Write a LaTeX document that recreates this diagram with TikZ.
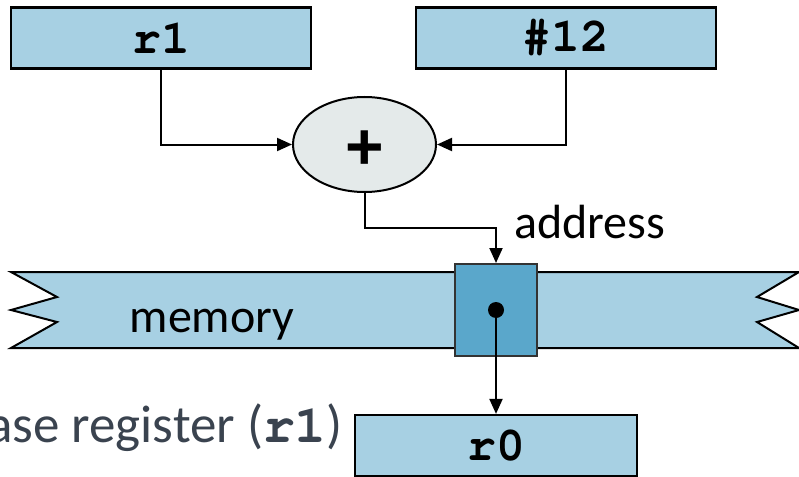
\documentclass[tikz,border=0pt]{standalone}
\usepackage{fontspec}
\setmainfont{Carlito}
\setmonofont{TeX Gyre Cursor}
\newfontfamily\plusfont{Liberation Sans}
\newcommand\codefont{\ttfamily\bfseries}
\usetikzlibrary{shapes.geometric,arrows.meta}

\definecolor{regfill}{HTML}{A7D0E3}
\definecolor{alufill}{HTML}{E4EAEA}
\definecolor{cellfill}{HTML}{5AA7CB}
\definecolor{notegray}{HTML}{3A434F}

\tikzset{
  reg/.style={draw=black, line width=2.2pt, fill=regfill, rectangle,
    minimum width=300pt, minimum height=61pt, inner sep=0pt,
    font=\fontsize{48}{48}\selectfont\codefont},
  alu/.style={draw=black, line width=2pt, fill=alufill, ellipse,
    minimum width=143pt, minimum height=95pt, inner sep=0pt},
  cellbox/.style={draw=black!80, line width=2pt, fill=cellfill, rectangle,
    minimum width=82pt, minimum height=92pt, inner sep=0pt},
  wire/.style={draw=black, line width=2pt,
    -{Triangle[length=15pt,width=13pt]}},
  lbl/.style={font=\fontsize{48}{48}\selectfont, inner sep=0pt},
}

\begin{document}
\begin{tikzpicture}[x=1pt, y=-1pt]
  \useasboundingbox (0,0) rectangle (799,476);

  % operand registers
  \node[reg] (r1)  at (161,38)  {r1};
  \node[reg] (imm) at (566,38)  {\#12};

  % adder
  \node[alu] (add) at (364.5,144.5) {};
  \node[inner sep=0pt, font=\fontsize{66}{66}\selectfont\plusfont\bfseries]
    (plus) at (365,150) {+};

  % memory strip with torn ends
  \draw[line width=2pt, fill=regfill]
    (11,272) -- (799,272) -- (757,297) -- (799,310) -- (757,322) -- (799,348)
    -- (11,348) -- (57,322) -- (11,310) -- (57,297) -- cycle;
  \node[lbl, anchor=base] (mem) at (212,332) {memory};

  % addressed cell
  \node[cellbox] (cell) at (496,310) {};
  \fill (cell.center) circle (8pt);
  \node[inner sep=0pt] (dot) at (cell.center) {};

  % destination register
  \node[reg, minimum width=282pt] (r0) at (496,445.5) {r0};

  % labels
  \node[lbl, anchor=base west] (addr) at (514,238) {address};
  \node[font=\fontsize{53}{53}\selectfont, text=notegray, inner sep=0pt,
    anchor=base east] (note) at (343,442)
    {base register ({\codefont r1})};

  % connectors
  \coordinate (bend) at (364.5,228);
  \draw[wire] (r1.south) |- (add.west);
  \draw[wire] (imm.south) |- (add.east);
  \draw[wire] (add.south) -- (bend) -| (cell.north);
  \draw[wire] (dot.center) -- (r0.north);
\end{tikzpicture}
\end{document}
